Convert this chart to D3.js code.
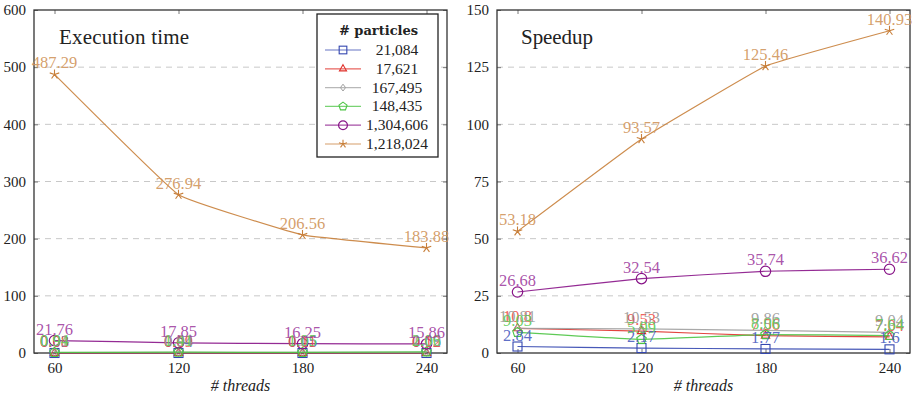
<!DOCTYPE html>
<html>
<head>
<meta charset="utf-8">
<script src="https://cdn.jsdelivr.net/npm/d3@7"></script>
<style>
  body { margin: 0; background: #fff; }
  svg { font-family: "Liberation Serif", "DejaVu Serif", serif; }
</style>
</head>
<body>
<svg id="chart" width="918" height="397"></svg>
<script>
const threads = [60, 120, 180, 240];
const particles = ['21,084', '17,621', '167,495', '148,435', '1,304,606', '1,218,024'];
const colors = ['#3447b0', '#e0302a', '#a0a0a0', '#4cc444', '#881488', '#c87f3a'];
const labelColors = ['#4a5cc0', '#ee5048', '#9a9a9a', '#60cc58', '#a040a0', '#d0945a'];
const markers = ['square', 'triangle', 'diamond', 'pentagon', 'circle', 'star'];

// execution time (s)
const time21084 = [0.03, 0.04, 0.05, 0.05];
const time17621 = [0.08, 0.09, 0.11, 0.12];
const time167495 = [0.91, 0.94, 1.0, 1.09];
const time148435 = [0.94, 1.41, 1.05, 2.06];
const time1304606 = [21.76, 17.85, 16.25, 15.86];
const time1218024 = [487.29, 276.94, 206.56, 183.88];

// speedup
const sp21084 = [2.84, 2.17, 1.77, 1.6];
const sp17621 = [10.8, 9.53, 7.56, 7.04];
const sp167495 = [10.81, 10.53, 9.86, 9.04];
const sp148435 = [9.03, 5.99, 8.06, 7.64];
const sp1304606 = [26.68, 32.54, 35.74, 36.62];
const sp1218024 = [53.18, 93.57, 125.46, 140.93];

const timeSeries = [time21084, time17621, time167495, time148435, time1304606, time1218024];
const speedSeries = [sp21084, sp17621, sp167495, sp148435, sp1304606, sp1218024];

const timeTicks = [0, 100, 200, 300, 400, 500, 600];
const speedTicks = [0, 25, 50, 75, 100, 125, 150];

const svg = d3.select('#chart');

function marker(g, type, color, size) {
  const s = size || 1;
  if (type === 'square') {
    g.append('rect').attr('x', -4.5 * s).attr('y', -4.5 * s).attr('width', 9 * s).attr('height', 9 * s)
      .attr('fill', 'none').attr('stroke', color).attr('stroke-width', 1.1);
  } else if (type === 'triangle') {
    g.append('path').attr('d', d3.symbol(d3.symbolTriangle, 30 * s * s)())
      .attr('fill', 'none').attr('stroke', color).attr('stroke-width', 1.1);
  } else if (type === 'diamond') {
    g.append('path').attr('d', `M0,${-4 * s}L${3 * s},0L0,${4 * s}L${-3 * s},0Z`)
      .attr('fill', 'none').attr('stroke', color).attr('stroke-width', 1);
  } else if (type === 'pentagon') {
    const pts = d3.range(5).map(i => {
      const a = -Math.PI / 2 + i * 2 * Math.PI / 5;
      return [5 * s * Math.cos(a), 5 * s * Math.sin(a)];
    });
    g.append('path').attr('d', 'M' + pts.join('L') + 'Z')
      .attr('fill', 'none').attr('stroke', color).attr('stroke-width', 1.1);
  } else if (type === 'circle') {
    g.append('circle').attr('r', 5.2 * s)
      .attr('fill', 'none').attr('stroke', color).attr('stroke-width', 1.2);
  } else if (type === 'star') {
    const d = d3.range(5).map(i => {
      const a = -Math.PI / 2 + i * 2 * Math.PI / 5;
      return `M0,0L${5 * s * Math.cos(a)},${5 * s * Math.sin(a)}`;
    }).join('');
    g.append('path').attr('d', d).attr('fill', 'none').attr('stroke', color).attr('stroke-width', 1.1);
  }
}

function drawPanel(opts) {
  const { left, right, top, bottom, yMax, yTicks, series, title, titleX, legend } = opts;
  const x = d3.scaleLinear().domain([60, 240]).range([left + 20.5, right - 20.5]);
  const y = d3.scaleLinear().domain([0, yMax]).range([bottom, top]);
  const g = svg.append('g');

  // grid
  g.selectAll('.grid').data(yTicks.filter(t => t > 0 && t < yMax)).enter()
    .append('line')
    .attr('x1', left).attr('x2', right)
    .attr('y1', d => y(d)).attr('y2', d => y(d))
    .attr('stroke', '#c8c8c8').attr('stroke-dasharray', '6,5').attr('stroke-width', 1);

  // axes
  const axL = d3.axisLeft(y).tickValues(yTicks).tickSize(-4).tickPadding(8);
  const axR = d3.axisRight(y).tickValues(yTicks).tickSize(-4).tickFormat('');
  const axB = d3.axisBottom(x).tickValues(threads).tickSize(-4).tickPadding(9);
  const axT = d3.axisTop(x).tickValues(threads).tickSize(-4).tickFormat('');
  [[axL, `translate(${left},0)`], [axR, `translate(${right},0)`],
   [axB, `translate(0,${bottom})`], [axT, `translate(0,${top})`]].forEach(([ax, tr]) => {
    const a = g.append('g').attr('transform', tr).call(ax);
    a.select('.domain').remove();
    a.selectAll('line').attr('stroke', '#777');
    a.selectAll('text').attr('font-family', '"Liberation Serif", serif').attr('font-size', 15).attr('fill', '#222');
  });
  g.append('rect').attr('x', left).attr('y', top).attr('width', right - left).attr('height', bottom - top)
    .attr('fill', 'none').attr('stroke', '#333').attr('stroke-width', 1.3);

  g.append('text').attr('x', titleX).attr('y', top + 34)
    .attr('font-size', 21).attr('fill', '#222').attr('textLength', title.length > 8 ? 130 : 72).text(title);

  g.append('text').attr('x', (left + right) / 2).attr('y', bottom + 38)
    .attr('text-anchor', 'middle').attr('font-size', 16).attr('font-style', 'italic').attr('fill', '#222')
    .text('# threads');

  const line = d3.line().x((d, i) => x(threads[i])).y(d => y(d)).curve(d3.curveCardinal.tension(0.75));

  series.forEach((vals, k) => {
    g.append('path').attr('d', line(vals)).attr('fill', 'none')
      .attr('stroke', colors[k]).attr('stroke-width', 1.2).attr('stroke-opacity', 0.9);
    vals.forEach((v, i) => {
      const m = g.append('g').attr('transform', `translate(${x(threads[i])},${y(v)})`);
      marker(m, markers[k], colors[k]);
    });
  });
  series.forEach((vals, k) => {
    vals.forEach((v, i) => {
      g.append('text').attr('x', x(threads[i])).attr('y', y(v) - 6)
        .attr('text-anchor', 'middle').attr('font-size', 16.5).attr('fill', labelColors[k])
        .attr('fill-opacity', 0.9).text(v);
    });
  });

  if (legend) {
    const lx = 317, ly = 14, lw = 121, lh = 143;
    const lg = g.append('g');
    lg.append('rect').attr('x', lx).attr('y', ly).attr('width', lw).attr('height', lh)
      .attr('fill', '#fff').attr('stroke', '#222').attr('stroke-width', 1.3);
    lg.append('text').attr('x', lx + lw / 2 + 1).attr('y', ly + 21).attr('text-anchor', 'middle')
      .attr('font-family', '"DejaVu Serif", serif')
      .attr('font-size', 13).attr('font-weight', 'bold').attr('fill', '#222').text('# particles');
    particles.forEach((p, k) => {
      const yy = ly + 36 + k * 18.8;
      lg.append('line').attr('x1', lx + 8).attr('x2', lx + 44).attr('y1', yy).attr('y2', yy)
        .attr('stroke', colors[k]).attr('stroke-opacity', 0.75).attr('stroke-width', 1.2);
      const m = lg.append('g').attr('transform', `translate(${lx + 26},${yy})`);
      marker(m, markers[k], colors[k], 0.85);
      lg.append('text').attr('x', lx + 80).attr('y', yy + 5).attr('text-anchor', 'middle')
        .attr('font-size', 15.5).attr('fill', '#222').text(p);
    });
  }
}

drawPanel({ left: 34, right: 447, top: 10, bottom: 353, yMax: 600, yTicks: timeTicks,
  series: timeSeries, title: 'Execution time', titleX: 59, legend: true });
drawPanel({ left: 497, right: 910, top: 10, bottom: 353, yMax: 150, yTicks: speedTicks,
  series: speedSeries, title: 'Speedup', titleX: 521, legend: false });
</script>
</body>
</html>
